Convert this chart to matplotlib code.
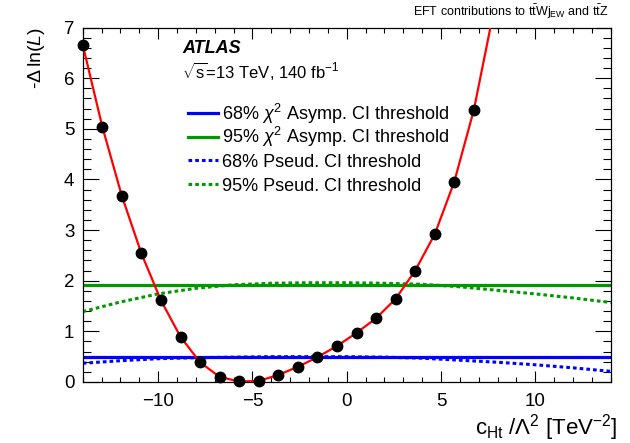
import numpy as np
import matplotlib
matplotlib.use('Agg')
import matplotlib.pyplot as plt
from matplotlib.ticker import MultipleLocator

plt.rcParams['font.family'] = ['Liberation Sans', 'DejaVu Sans']
plt.rcParams['mathtext.fontset'] = 'custom'
plt.rcParams['mathtext.rm'] = 'Liberation Sans'
plt.rcParams['mathtext.it'] = 'Liberation Sans:italic'
plt.rcParams['mathtext.bf'] = 'Liberation Sans:bold'

# scan points (-Delta ln L vs c_Ht)
scan_x = [-14.0, -12.96, -11.93, -10.89, -9.85, -8.81, -7.78, -6.74, -5.70, -4.67,
          -3.63, -2.59, -1.56, -0.52, 0.52, 1.56, 2.59, 3.63, 4.67, 5.70, 6.74]
scan_y = [6.66, 5.04, 3.68, 2.54, 1.61, 0.89, 0.39, 0.10, 0.01, 0.02,
          0.14, 0.30, 0.49, 0.71, 0.97, 1.26, 1.64, 2.20, 2.92, 3.95, 5.37]

# fitted curve: same points, continued to the top of the frame
curve_x = scan_x + [7.62]
curve_y = scan_y + [7.0]

# asymptotic thresholds
asym_68 = 0.5
asym_95 = 1.92

# pseudo-experiment thresholds
pseud_x = [-14, -12, -10, -8, -6, -4, -2, 0, 2, 4, 6, 8, 10, 12, 14]
pseud_68 = [0.37, 0.42, 0.46, 0.48, 0.49, 0.50, 0.50, 0.50, 0.49, 0.47, 0.43, 0.39, 0.34, 0.28, 0.21]
pseud_95 = [1.39, 1.58, 1.74, 1.85, 1.92, 1.95, 1.96, 1.96, 1.95, 1.93, 1.88, 1.81, 1.74, 1.66, 1.57]

blue = '#0000ff'
green = '#009a00'
dotted = (0, (1.2, 1.0))

legend_entries = [
    (r'68% $\chi^{2}$ Asymp. CI threshold', blue, '-'),
    (r'95% $\chi^{2}$ Asymp. CI threshold', green, '-'),
    ('68% Pseud. CI threshold', blue, dotted),
    ('95% Pseud. CI threshold', green, dotted),
]

fig = plt.figure(figsize=(6.3, 4.43), dpi=100)
ax = fig.add_axes([0.1313, 0.1377, 0.8381, 0.8002])

ax.plot(pseud_x, pseud_68, color=blue, lw=2.2, linestyle=dotted, zorder=2)
ax.plot(pseud_x, pseud_95, color=green, lw=2.2, linestyle=dotted, zorder=2)
ax.axhline(asym_68, color=blue, lw=2.3, zorder=2)
ax.axhline(asym_95, color=green, lw=2.3, zorder=2)
ax.plot(curve_x, curve_y, color='red', lw=1.6, zorder=3)
ax.plot(scan_x, scan_y, 'o', color='black', ms=7.5, zorder=4, clip_on=False)

ax.set_xlim(-14, 14)
ax.set_ylim(0, 7)
ax.xaxis.set_major_locator(MultipleLocator(5))
ax.xaxis.set_minor_locator(MultipleLocator(1))
ax.yaxis.set_major_locator(MultipleLocator(1))
ax.yaxis.set_minor_locator(MultipleLocator(0.2))
ax.tick_params(which='both', direction='in', top=True, right=True, labelsize=13.5, width=0.8)
ax.tick_params(axis='x', which='major', length=7.6, pad=8)
ax.tick_params(axis='x', which='minor', length=3.8)
ax.tick_params(axis='y', which='major', length=11.4, pad=6)
ax.tick_params(axis='y', which='minor', length=5.7)
for sp in ax.spines.values():
    sp.set_linewidth(0.9)

fig.text(0.058, 1 - 27 / 443, r'-$\Delta\,$ln($\mathit{L}$)', rotation=90,
         ha='center', va='top', fontsize=14)
fig.text(618 / 630, 1 - 428 / 443, r'c$_{\mathrm{Ht}}$ /$\Lambda^{2}$ [TeV$^{-2}$]',
         ha='right', va='center', fontsize=16)
fig.text(608 / 630, 1 - 12 / 443,
         r'EFT contributions to t$\bar{\mathrm{t}}$Wj$_{\mathrm{EW}}$ and t$\bar{\mathrm{t}}$Z',
         ha='right', va='center', fontsize=9)

ax.text(0.188, 0.942, 'ATLAS', transform=ax.transAxes, fontsize=13,
        fontweight='bold', fontstyle='italic', va='center')
ax.text(0.188, 0.877, r'$\sqrt{\mathrm{s}}$=13 TeV, 140 fb$^{-1}$', transform=ax.transAxes,
        fontsize=12, va='center')

# legend drawn by hand so the rows keep an even spacing
row_y = 0.7588
for label, color, style in legend_entries:
    ax.plot([0.1994, 0.2563], [row_y, row_y], transform=ax.transAxes, color=color,
            lw=2.3 if style == '-' else 2.2, linestyle=style, clip_on=False)
    ax.text(0.2638, row_y - 0.0183, label, transform=ax.transAxes, fontsize=13,
            va='baseline', ha='left')
    row_y -= 0.0668

fig.savefig('out.png', dpi=100)
